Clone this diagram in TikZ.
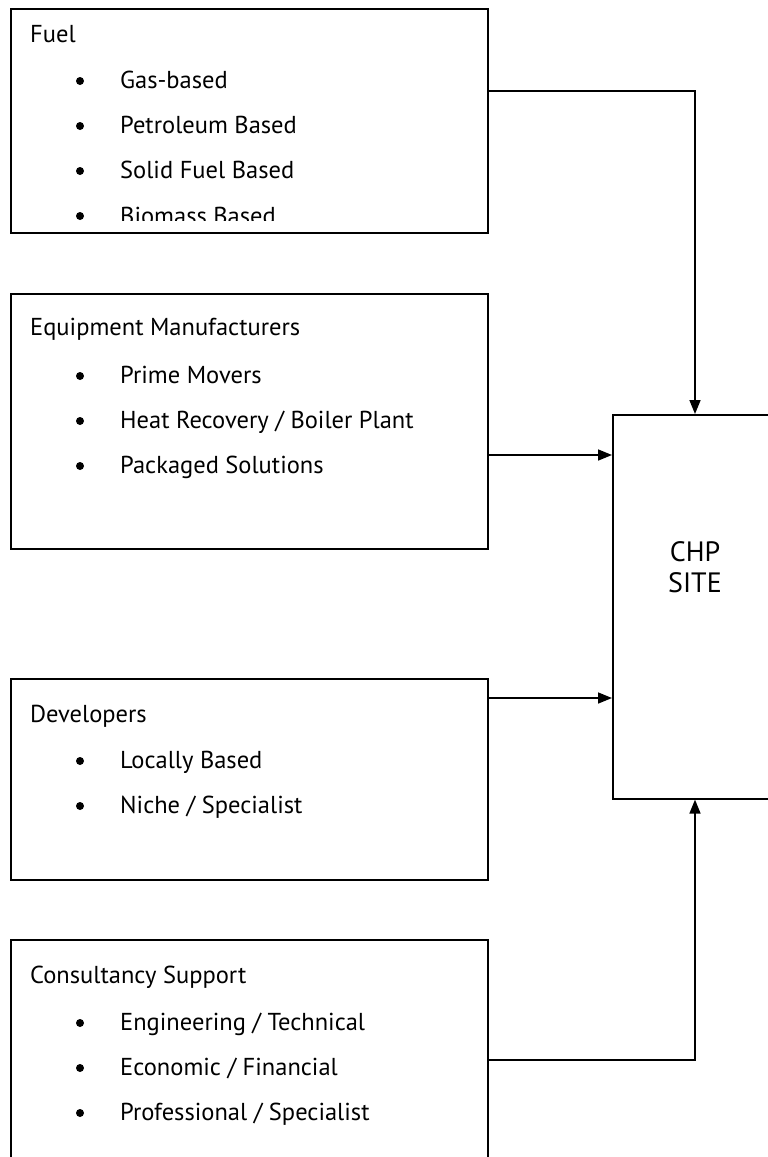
\documentclass[tikz,border=0pt]{standalone}
\usepackage{fontspec}
\setmainfont{PT Sans}
\usetikzlibrary{arrows.meta}
\tikzset{
  box/.style={draw, line width=1.6pt, rectangle, anchor=north west, inner sep=0pt},
  head/.style={anchor=base west, inner sep=0pt, font=\fontsize{24.5}{28}\selectfont},
  item/.style={anchor=base west, inner sep=0pt, font=\fontsize{24.5}{28}\selectfont},
  conn/.style={line width=1.6pt, -{Triangle[length=14pt,width=11pt]}},
  dot/.style={circle, fill=black, inner sep=0pt, minimum size=8pt}
}
\begin{document}
\begin{tikzpicture}[x=1pt,y=-1pt]
\useasboundingbox (0,0) rectangle (768,1157);
\clip (0,0) rectangle (768,1157);
% boxes
\node[box, minimum width=477pt, minimum height=224pt] (fuel) at (10,8) {};
\node[box, minimum width=477pt, minimum height=255pt] (equip) at (10,293) {};
\node[box, minimum width=477pt, minimum height=201pt] (dev) at (10,678) {};
\node[box, minimum width=477pt, minimum height=240pt] (cons) at (10,939) {};
\node[box, minimum width=180pt, minimum height=384pt] (chp) at (612,414) {};
% Fuel text
\begin{scope}
\clip (10,8) rectangle (487,220);
\node[head] (tfuel) at (30,42) {Fuel};
\node[dot] (b1) at (80,81) {};
\node[item] (f1) at (120,88) {Gas-based};
\node[dot] (b2) at (80,126) {};
\node[item] (f2) at (120,133) {Petroleum Based};
\node[dot] (b3) at (80,171) {};
\node[item] (f3) at (120,178) {Solid Fuel Based};
\node[dot] (b4) at (80,216) {};
\node[item] (f4) at (120,224) {Biomass Based};
\end{scope}
% Equipment text
\node[head] (tequip) at (30,335) {Equipment Manufacturers};
\node[dot] (b5) at (80,376) {};
\node[item] (e1) at (120,383) {Prime Movers};
\node[dot] (b6) at (80,421) {};
\node[item] (e2) at (120,428) {Heat Recovery / Boiler Plant};
\node[dot] (b7) at (80,466) {};
\node[item] (e3) at (120,473) {Packaged Solutions};
% Developers text
\node[head] (tdev) at (30,722) {Developers};
\node[dot] (b8) at (80,761) {};
\node[item] (d1) at (120,768) {Locally Based};
\node[dot] (b9) at (80,806) {};
\node[item] (d2) at (120,813) {Niche / Specialist};
% Consultancy text
\node[head] (tcons) at (30,983) {Consultancy Support};
\node[dot] (b10) at (80,1023) {};
\node[item] (c1) at (120,1030) {Engineering / Technical};
\node[dot] (b11) at (80,1068) {};
\node[item] (c2) at (120,1075) {Economic / Financial};
\node[dot] (b12) at (80,1113) {};
\node[item] (c3) at (120,1120) {Professional / Specialist};
% CHP text
\node[anchor=base, inner sep=0pt, font=\fontsize{28}{31}\selectfont, align=center] (tchp) at (695,592) {CHP\\SITE};
% connectors
\coordinate (fc) at (695,91);
\coordinate (cc) at (695,1060);
\draw[conn] (fuel.east |- fc) -- (fc) -- (chp.north -| fc);
\draw[conn] (equip.east |- 0,455) -- (chp.west |- 0,455);
\draw[conn] (dev.east |- 0,698) -- (chp.west |- 0,698);
\draw[conn] (cons.east |- cc) -- (cc) -- (chp.south -| cc);
\end{tikzpicture}
\end{document}
